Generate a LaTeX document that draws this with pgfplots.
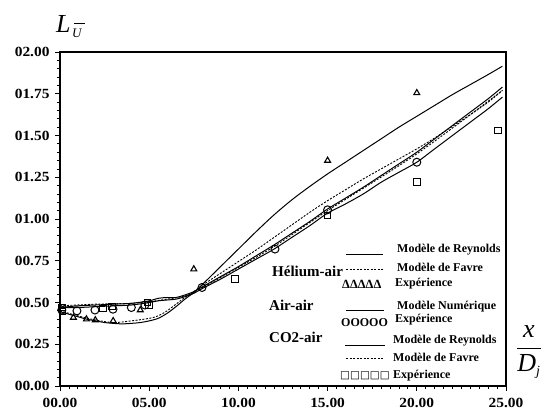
\documentclass[border=0pt]{standalone}
\usepackage{pgfplots}
\pgfplotsset{compat=1.18}
\usepackage{fontspec}
\setmainfont{Liberation Serif}
\newfontfamily\sym{DejaVu Sans}
\newcommand{\wl}[1]{\scalebox{1.1}[1]{#1}}
\begin{document}
\begin{tikzpicture}
\begin{axis}[
 at={(0,0)}, anchor=south west,
 scale only axis, width=446pt, height=334pt,
 xmin=0,xmax=25,ymin=0,ymax=2,
 xtick={0,5,10,15,20,25}, xticklabels={\wl{00.00},\wl{05.00},\wl{10.00},\wl{15.00},\wl{20.00},\wl{25.00}},
 ytick={0,0.25,0.5,0.75,1,1.25,1.5,1.75,2},
 yticklabels={\wl{00.00},\wl{00.25},\wl{00.50},\wl{00.75},\wl{01.00},\wl{01.25},\wl{01.50},\wl{01.75},\wl{02.00}},
 minor x tick num=9, minor y tick num=4,
 tick align=outside, xtick pos=bottom, ytick pos=left,
 major tick length=5pt, minor tick length=3pt,
 axis line style={line width=1.4pt},
 tick style={black, line width=0.8pt},
 tick label style={font=\fontsize{14}{14}\selectfont\bfseries},
 xticklabel style={yshift=-4pt},
 yticklabel style={xshift=-2pt},
 clip=false
]
% Helium-air Reynolds
\addplot[black, line width=1pt, smooth] coordinates {(0,0.445)(0.5,0.43)(1,0.415)(1.5,0.40)(2,0.39)(2.5,0.38)(3,0.375)(3.5,0.372)(4,0.375)(4.5,0.38)(5,0.39)(5.5,0.405)(6,0.435)(6.5,0.475)(7,0.52)(7.5,0.56)(8,0.61)(9,0.715)(10,0.82)(11,0.925)(12,1.025)(13,1.115)(14,1.195)(15,1.27)(16,1.34)(17,1.41)(18,1.48)(19,1.55)(20,1.615)(21,1.68)(22,1.745)(23,1.805)(24,1.865)(24.8,1.915)};
% Helium-air Favre
\addplot[black, line width=0.9pt, dash pattern=on 2pt off 1.5pt, smooth] coordinates {(0,0.45)(1,0.42)(2,0.395)(3,0.38)(4,0.39)(5,0.405)(5.5,0.42)(6,0.45)(6.5,0.49)(7,0.53)(7.5,0.565)(8,0.605)(9,0.675)(10,0.745)(11,0.815)(12,0.89)(13,0.965)(14,1.04)(15,1.11)(16,1.175)(17,1.24)(18,1.30)(19,1.36)(20,1.42)(21,1.485)(22,1.555)(23,1.625)(24,1.70)(24.8,1.77)};
% Air-air numerique
\addplot[black, line width=1pt, smooth] coordinates {(0,0.47)(1,0.47)(2,0.475)(3,0.48)(4,0.485)(5,0.50)(5.5,0.51)(6,0.515)(6.5,0.52)(7,0.535)(7.5,0.555)(8,0.585)(9,0.64)(10,0.70)(11,0.76)(12,0.82)(13,0.89)(14,0.96)(15,1.035)(16,1.09)(17,1.15)(18,1.22)(19,1.28)(20,1.34)(21,1.42)(22,1.50)(23,1.58)(24,1.66)(24.8,1.73)};
% CO2-air Reynolds
\addplot[black, line width=1pt, smooth] coordinates {(0,0.47)(1,0.48)(2,0.485)(3,0.49)(4,0.495)(5,0.51)(5.5,0.525)(6,0.53)(6.5,0.53)(7,0.545)(7.5,0.565)(8,0.595)(9,0.655)(10,0.715)(11,0.78)(12,0.845)(13,0.915)(14,0.985)(15,1.06)(16,1.125)(17,1.19)(18,1.26)(19,1.33)(20,1.40)(21,1.48)(22,1.56)(23,1.64)(24,1.72)(24.8,1.79)};
% CO2-air Favre
\addplot[black, line width=0.9pt, dash pattern=on 2pt off 1.5pt, smooth] coordinates {(0,0.48)(2,0.49)(4,0.495)(5,0.505)(6,0.52)(7,0.54)(8,0.59)(10,0.71)(12,0.835)(15,1.05)(20,1.39)(24.8,1.77)};
% Experiments
\addplot[only marks, mark=triangle, mark size=3.4pt, black, mark options={line width=1.1pt}] coordinates {(0.75,0.41)(1.48,0.40)(1.98,0.395)(2.98,0.39)(4.5,0.455)(7.5,0.70)(15,1.35)(20,1.755)};
\addplot[only marks, mark=o, mark size=4pt, black, mark options={line width=1pt}] coordinates {(0.1,0.455)(0.95,0.45)(1.96,0.455)(2.97,0.46)(4.0,0.47)(4.76,0.485)(7.96,0.59)(12.05,0.82)(15,1.055)(20,1.34)};
\addplot[only marks, mark=square, mark size=3.3pt, black, mark options={line width=1pt}] coordinates {(0.1,0.47)(0.15,0.445)(2.4,0.465)(2.9,0.475)(4.9,0.50)(5.0,0.485)(9.8,0.64)(15,1.02)(20,1.22)(24.55,1.53)};
\end{axis}
\begin{scope}[shift={(-60pt,386pt)}, x=1pt, y=-1pt]
\def\lf{\fontsize{12}{12}\selectfont\bfseries}
\def\gf{\fontsize{15}{15}\selectfont\bfseries}
% Helium
\draw[line width=1pt] (346,254) -- (383,254);
\node[anchor=west, inner sep=0] at (397,250) {\lf Modèle de Reynolds};
\node[anchor=west, inner sep=0] at (272,271) {\gf Hélium-air};
\draw[line width=0.9pt, dash pattern=on 2pt off 1.5pt] (346,269) -- (383,269);
\node[anchor=west, inner sep=0] at (397,267) {\lf Modèle de Favre};
\node[anchor=west, inner sep=0] at (342,284) {\bfseries\fontsize{12.5}{12.5}\selectfont ΔΔΔΔΔ};
\node[anchor=west, inner sep=0] at (395,284) {\lf Expérience};
% Air
\node[anchor=west, inner sep=0] at (269,305) {\gf Air-air};
\draw[line width=1pt] (346,310) -- (384,310);
\node[anchor=west, inner sep=0] at (397,307) {\lf Modèle Numérique};
\node[anchor=west, inner sep=0] at (341,322.5) {\bfseries\fontsize{12}{12}\selectfont OOOOO};
\node[anchor=west, inner sep=0] at (395,320) {\lf Expérience};
% CO2
\node[anchor=west, inner sep=0] at (269,337) {\gf CO2-air};
\draw[line width=1pt] (345,345) -- (385,345);
\node[anchor=west, inner sep=0] at (393,341) {\lf Modèle de Reynolds};
\draw[line width=0.9pt, dash pattern=on 2pt off 1.5pt] (346,358) -- (383,358);
\node[anchor=west, inner sep=0] at (393,357) {\lf Modèle de Favre};
\node[anchor=west, inner sep=0] at (340,376) {\sym\bfseries\fontsize{10.5}{10.5}\selectfont □□□□□};
\node[anchor=west, inner sep=0] at (393,376) {\lf Expérience};
% axis labels
\node[anchor=base west, inner sep=0] at (56,33) {\fontsize{26}{26}\selectfont\itshape L};
\node[anchor=base west, inner sep=0] at (72,38) {\fontsize{13}{13}\selectfont\itshape U};
\draw[line width=1pt] (74,24) -- (85,24);
\node at (529,352) {\fontsize{26}{26}\selectfont$\displaystyle\frac{\mbox{\itshape x}}{\mbox{\itshape D}_{\mbox{\fontsize{14}{14}\selectfont\itshape j}}}$};
\end{scope}
\pgfresetboundingbox
\path[use as bounding box] (-60pt,-27pt) rectangle (488pt,386pt);
\end{tikzpicture}
\end{document}
